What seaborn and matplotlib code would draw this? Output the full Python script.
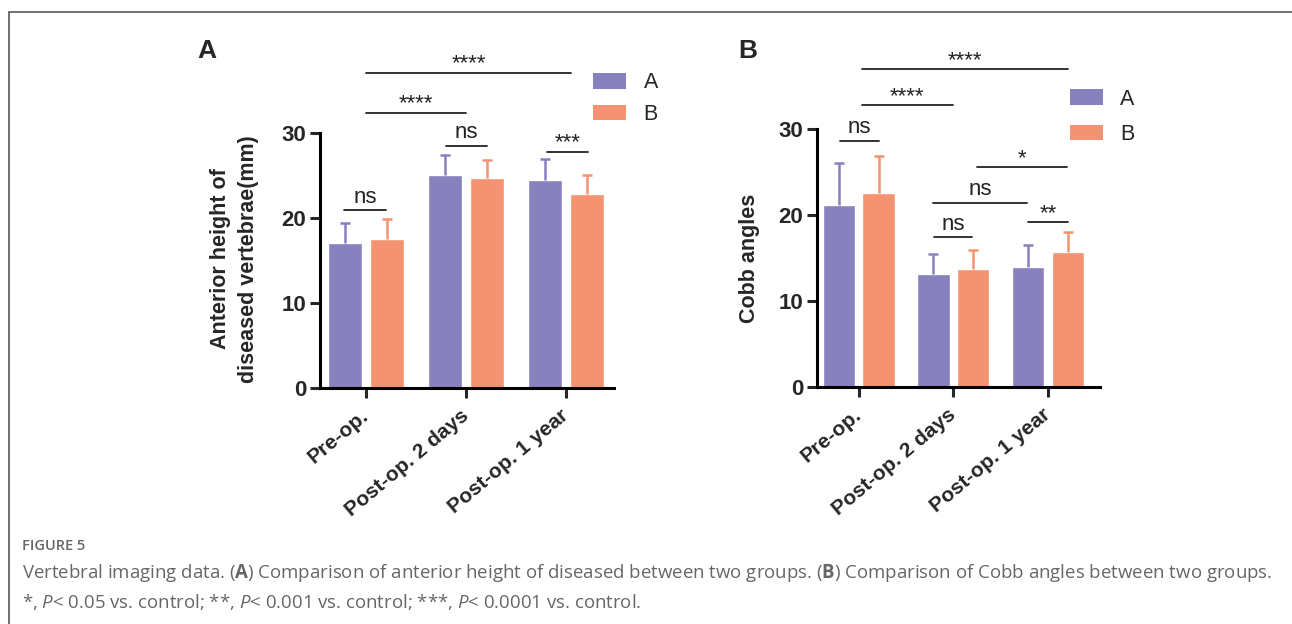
import numpy as np
import pandas as pd
import seaborn as sns
import matplotlib.pyplot as plt
import matplotlib.transforms as mtransforms
from matplotlib.lines import Line2D
from matplotlib.patches import Patch

# data
periods = ['Pre-op.', 'Post-op. 2 days', 'Post-op. 1 year']
groups = ['A', 'B']

height_a = [17.1, 25.0, 24.5]
height_a_sd = [2.3, 2.4, 2.4]
height_b = [17.5, 24.7, 22.8]
height_b_sd = [2.4, 2.1, 2.3]

cobb_a = [21.2, 13.1, 14.0]
cobb_a_sd = [4.8, 2.4, 2.5]
cobb_b = [22.6, 13.7, 15.7]
cobb_b_sd = [4.3, 2.2, 2.3]

# significance brackets: (x0, x1, y, label)
sig_height = [(0.0, 2.05, 37.1, '****'), (0.0, 1.0, 32.4, '****'),
              (-0.22, 0.2, 20.9, 'ns'), (0.8, 1.21, 28.5, 'ns'),
              (1.81, 2.22, 27.8, '***')]
sig_cobb = [(0.03, 2.21, 37.0, '****'), (0.03, 1.0, 32.8, '****'),
            (-0.2, 0.21, 28.6, 'ns'), (1.25, 2.2, 25.6, '*'),
            (0.78, 1.78, 21.4, 'ns'), (0.8, 1.2, 17.4, 'ns'),
            (1.79, 2.21, 19.2, '**')]

colors = ['#8781BD', '#F39371']

sns.set_style('white')
plt.rcParams['font.family'] = ['Liberation Sans', 'DejaVu Sans']
plt.rcParams['mathtext.fontset'] = 'custom'
plt.rcParams['mathtext.it'] = 'Open Sans:italic'
plt.rcParams['mathtext.bf'] = 'Open Sans:bold'
plt.rcParams['mathtext.rm'] = 'Open Sans'


def make_df(va, vb):
    return pd.DataFrame({'period': periods * 2,
                         'group': ['A'] * 3 + ['B'] * 3,
                         'value': va + vb})


def draw_panel(fig, ax, df, sds, sig, ylabel, ylpos, xlim):
    sns.barplot(data=df, x='period', y='value', hue='group', order=periods,
                hue_order=groups, palette=colors, width=0.84, gap=0.19,
                errorbar=None, saturation=1, legend=False, ax=ax)
    # upper-only error bars, one colour per group
    for cont, sd, col in zip(ax.containers, sds, colors):
        xs = np.array([p.get_x() + p.get_width() / 2 for p in cont.patches])
        ys = np.array([p.get_height() for p in cont.patches])
        tops = ys + np.array(sd)
        ax.vlines(xs, ys, tops, color=col, lw=1.8, zorder=1)
        ax.plot(xs, tops, ls='none', marker='_', ms=7, mew=1.8, color=col,
                zorder=1, clip_on=False)
    ax.set_ylim(0, 30)
    ax.set_xlim(*xlim)
    ax.set_yticks([0, 10, 20, 30])
    ax.set_xlabel('')
    ax.set_ylabel(ylabel, fontsize=15.5, fontweight='bold', linespacing=1.4)
    ax.yaxis.set_label_coords(*ylpos)
    sns.despine(ax=ax)
    for s in ['left', 'bottom']:
        ax.spines[s].set_linewidth(2.2)
        ax.spines[s].set_color('black')
    ax.tick_params(axis='both', direction='out', length=7, width=2.2,
                   labelsize=16, bottom=True, left=True, pad=3)
    for lab in ax.get_yticklabels():
        lab.set_fontweight('bold')
    ax.set_xticks(range(len(periods)))
    ax.set_xticklabels(periods, rotation=40, ha='right', fontsize=15,
                       rotation_mode='anchor', fontweight='bold')
    shift = mtransforms.ScaledTranslation(-0.06, -0.04, fig.dpi_scale_trans)
    for lab in ax.get_xticklabels():
        lab.set_transform(lab.get_transform() + shift)
    for x0, x1, y, txt in sig:
        ax.plot([x0, x1], [y, y], color='#222222', lw=1.3, clip_on=False)
        off = 5.5 if txt == 'ns' else 2.2
        ax.annotate(txt, ((x0 + x1) / 2, y), xytext=(0, off),
                    textcoords='offset points', ha='center', va='baseline',
                    fontsize=16, color='#222222', annotation_clip=False)


fig = plt.figure(figsize=(12.92, 6.24), dpi=100)
ax1 = fig.add_axes([0.2477, 0.3782, 0.2276, 0.4087])
ax2 = fig.add_axes([0.6324, 0.3798, 0.2190, 0.4135])

draw_panel(fig, ax1, make_df(height_a, height_b), [height_a_sd, height_b_sd],
           sig_height, 'Anterior height of\ndiseased vertebrae(mm)',
           (-0.208, 0.506), (-0.46, 2.48))
draw_panel(fig, ax2, make_df(cobb_a, cobb_b), [cobb_a_sd, cobb_b_sd],
           sig_cobb, 'Cobb angles', (-0.201, 0.498), (-0.44, 2.55))

# legends
handles = [Patch(facecolor=c, edgecolor='none') for c in colors]
for anchor, ls in [((0.444, 0.915), 0.5), ((0.813, 0.889), 0.68)]:
    fig.legend(handles, groups, loc='upper left', bbox_to_anchor=anchor,
               frameon=False, fontsize=15.5, handlelength=1.55,
               handleheight=0.72, labelspacing=ls, handletextpad=0.8)

fig.text(207 / 1292, 1 - 51 / 624, 'A', fontsize=19, fontweight='bold',
         ha='center', va='center')
fig.text(748 / 1292, 1 - 51 / 624, 'B', fontsize=19, fontweight='bold',
         ha='center', va='center')

# frame
fig.add_artist(Line2D([9 / 1292, 1], [1 - 12 / 624] * 2, color='#666666',
                      lw=1.3, transform=fig.transFigure))
fig.add_artist(Line2D([9 / 1292] * 2, [0, 1 - 12 / 624], color='#666666',
                      lw=1.3, transform=fig.transFigure))

# caption
cap = dict(family='Open Sans', color='#666666', transform=fig.transFigure)
fig.text(22 / 1292, 1 - 546 / 624, 'FIGURE 5', fontsize=10.5,
         fontweight='semibold', va='center', **cap)
fig.text(22 / 1292, 1 - 573 / 624,
         r'Vertebral imaging data. ($\mathbf{A}$) Comparison of anterior height of diseased '
         r'between two groups. ($\mathbf{B}$) Comparison of Cobb angles between two groups.',
         fontsize=13.4, va='center', **cap)
fig.text(22 / 1292, 1 - 602 / 624,
         r'*, $P$< 0.05 vs. control; **, $P$< 0.001 vs. control; ***, '
         r'$P$< 0.0001 vs. control.',
         fontsize=13.4, va='center', **cap)

fig.savefig('out.png', dpi=100)
